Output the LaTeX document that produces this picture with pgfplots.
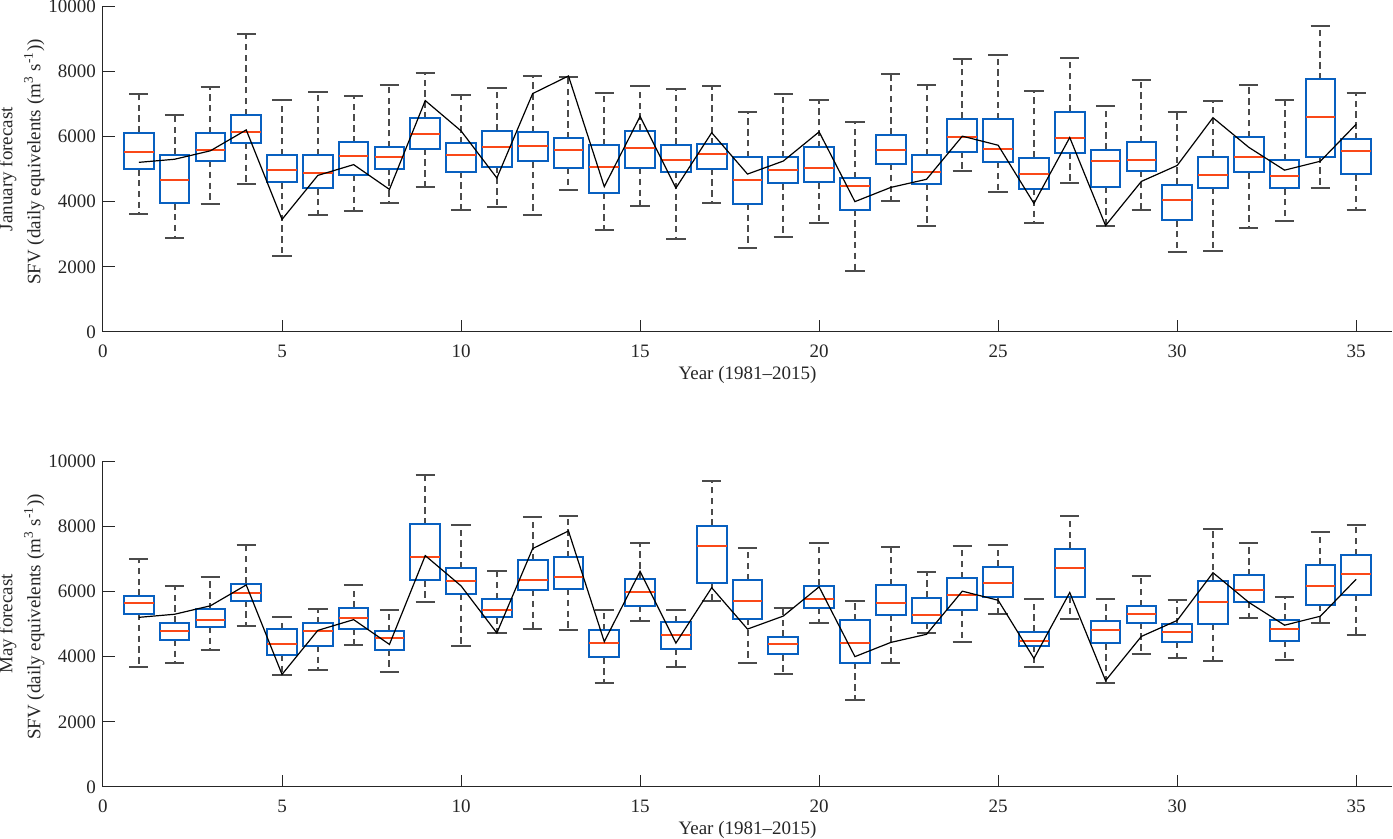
\documentclass[border=0pt]{standalone}
\usepackage{fontspec}
\setmainfont{Liberation Serif}
\usepackage{pgfplots}
\usepackage{pgfplotstable}
\pgfplotsset{compat=1.18}
\usepgfplotslibrary{statistics}

\definecolor{boxblue}{RGB}{8,96,192}
\definecolor{medred}{RGB}{250,72,24}
\definecolor{whisk}{RGB}{75,75,75}
\definecolor{axgray}{RGB}{38,38,38}

% observed SFV (black line), same in both panels
\pgfplotstableread{
yr obs
1 5205
2 5300
3 5560
4 6200
5 3455
6 4805
7 5135
8 4375
9 7100
10 6170
11 4725
12 7315
13 7855
14 4460
15 6615
16 4415
17 6115
18 4845
19 5245
20 6140
21 4000
22 4435
23 4685
24 6008
25 5730
26 3945
27 5967
28 3265
29 4620
30 5110
31 6575
32 5666
33 4965
34 5240
35 6375
}\obs

% pos, lower whisker, q1, median, q3, upper whisker
\newcommand{\bx}[6]{\addplot[boxblue, solid, boxplot prepared={draw position=#1,
  lower whisker=#2, lower quartile=#3, median=#4, upper quartile=#5, upper whisker=#6}]
  coordinates {};}

\pgfplotsset{
  sfv/.style={
    scale only axis, width=644.5pt, height=163pt,
    disabledatascaling,
    xmin=0, xmax=36, ymin=0, ymax=10000,
    scaled y ticks=false,
    axis lines*=left, axis line style={-, axgray, line width=0.5pt},
    xtick={0,5,...,35}, ytick={0,2000,4000,6000,8000,10000},
    tick align=inside, major tick length=6pt,
    tick style={axgray, line width=0.5pt},
    /pgf/number format/assume math mode=true,
    /pgf/number format/1000 sep={},
    tick label style={font=\fontsize{9.5}{11}\selectfont, text=axgray},
    xticklabel style={yshift=-3pt},
    label style={font=\fontsize{9.5}{14}\selectfont, text=axgray},
    xlabel={Year (1981--2015)},
    xlabel style={yshift=2.5pt},
    ylabel style={at={(axis description cs:-0.045,0.5)}, anchor=south,
      inner sep=0pt, align=center},
    boxplot/draw direction=y,
    boxplot/box extend=0.83,
    boxplot/whisker extend=0.54,
    boxplot/every box/.style={draw=boxblue, line width=1pt},
    boxplot/every median/.style={draw=medred, line width=1pt},
    boxplot/draw/lower whisker/.code={%
      \draw[whisk, line width=1pt, dash pattern=on 3.2pt off 2.2pt]
        (boxplot box cs:\pgfplotsboxplotvalue{lower quartile},0.5) --
        (boxplot box cs:\pgfplotsboxplotvalue{lower whisker},0.5);
      \draw[whisk, line width=1pt]
        (boxplot whisker cs:\pgfplotsboxplotvalue{lower whisker},0) --
        (boxplot whisker cs:\pgfplotsboxplotvalue{lower whisker},1);
    },
    boxplot/draw/upper whisker/.code={%
      \draw[whisk, line width=1pt, dash pattern=on 3.2pt off 2.2pt]
        (boxplot box cs:\pgfplotsboxplotvalue{upper quartile},0.5) --
        (boxplot box cs:\pgfplotsboxplotvalue{upper whisker},0.5);
      \draw[whisk, line width=1pt]
        (boxplot whisker cs:\pgfplotsboxplotvalue{upper whisker},0) --
        (boxplot whisker cs:\pgfplotsboxplotvalue{upper whisker},1);
    },
  },
}

\begin{document}
\begin{tikzpicture}
\useasboundingbox (-51.5pt,-253.5pt) rectangle (645pt,166pt);

\begin{axis}[sfv, at={(0,0)}, anchor=south west,
  ylabel={January forecast\\\hspace*{7pt}SFV (daily equivelents (m\textsuperscript{3} s\textsuperscript{-1}))}]
\bx{1}{3614}{4993}{5534}{6116}{7290}
\bx{2}{2889}{3951}{4666}{5442}{6667}
\bx{3}{3921}{5248}{5575}{6106}{7504}
\bx{4}{4554}{5799}{6136}{6657}{9138}
\bx{5}{2318}{4594}{4962}{5422}{7116}
\bx{6}{3604}{4411}{4891}{5422}{7361}
\bx{7}{3706}{4819}{5401}{5820}{7249}
\bx{8}{3961}{5013}{5381}{5667}{7566}
\bx{9}{4441}{5626}{6075}{6555}{7943}
\bx{10}{3757}{4921}{5432}{5789}{7259}
\bx{11}{3849}{5074}{5667}{6177}{7474}
\bx{12}{3584}{5238}{5718}{6136}{7862}
\bx{13}{4360}{5034}{5585}{5942}{7821}
\bx{14}{3124}{4268}{5054}{5728}{7331}
\bx{15}{3859}{5034}{5646}{6177}{7555}
\bx{16}{2849}{4911}{5289}{5748}{7443}
\bx{17}{3961}{5013}{5462}{5769}{7535}
\bx{18}{2573}{3931}{4656}{5360}{6739}
\bx{19}{2920}{4564}{4982}{5371}{7290}
\bx{20}{3349}{4594}{5023}{5677}{7116}
\bx{21}{1858}{3757}{4482}{4717}{6442}
\bx{22}{4033}{5156}{5575}{6055}{7913}
\bx{23}{3267}{4543}{4911}{5422}{7586}
\bx{24}{4931}{5534}{5973}{6545}{8362}
\bx{25}{4309}{5217}{5626}{6534}{8495}
\bx{26}{3359}{4390}{4860}{5350}{7392}
\bx{27}{4574}{5503}{5942}{6759}{8393}
\bx{28}{3247}{4452}{5238}{5595}{6933}
\bx{29}{3737}{4942}{5268}{5830}{7739}
\bx{30}{2461}{3431}{4043}{4523}{6749}
\bx{31}{2481}{4421}{4809}{5381}{7076}
\bx{32}{3186}{4901}{5381}{5983}{7586}
\bx{33}{3400}{4411}{4788}{5279}{7116}
\bx{34}{4411}{5381}{6596}{7749}{9383}
\bx{35}{3757}{4840}{5554}{5912}{7321}
\addplot[black, line width=0.6pt, mark=none] table[x=yr, y=obs] {\obs};
\end{axis}

\begin{axis}[sfv, at={(0,-227.5pt)}, anchor=south west,
  ylabel={May forecast\\\hspace*{7pt}SFV (daily equivelents (m\textsuperscript{3} s\textsuperscript{-1}))}]
\bx{1}{3691}{5307}{5634}{5869}{6994}
\bx{2}{3804}{4519}{4785}{5041}{6166}
\bx{3}{4203}{4918}{5133}{5450}{6442}
\bx{4}{4949}{5716}{5941}{6237}{7434}
\bx{5}{3446}{4059}{4387}{4847}{5204}
\bx{6}{3579}{4335}{4785}{5020}{5460}
\bx{7}{4356}{4857}{5174}{5501}{6207}
\bx{8}{3538}{4213}{4560}{4785}{5429}
\bx{9}{5665}{6340}{7065}{8057}{9571}
\bx{10}{4335}{5920}{6309}{6708}{8047}
\bx{11}{4724}{5204}{5440}{5767}{6636}
\bx{12}{4836}{6043}{6360}{6953}{8282}
\bx{13}{4816}{6074}{6432}{7045}{8313}
\bx{14}{3190}{3978}{4407}{4816}{5429}
\bx{15}{5082}{5562}{5971}{6370}{7485}
\bx{16}{3681}{4233}{4673}{5061}{5429}
\bx{17}{5716}{6258}{7393}{8016}{9376}
\bx{18}{3814}{5153}{5716}{6350}{7321}
\bx{19}{3466}{4070}{4387}{4611}{5491}
\bx{20}{5031}{5491}{5777}{6176}{7474}
\bx{21}{2679}{3814}{4417}{5113}{5706}
\bx{22}{3793}{5286}{5634}{6196}{7372}
\bx{23}{4714}{5031}{5276}{5808}{6595}
\bx{24}{4438}{5429}{5890}{6411}{7393}
\bx{25}{5307}{5818}{6258}{6759}{7413}
\bx{26}{3671}{4325}{4489}{4765}{5757}
\bx{27}{5153}{5838}{6708}{7311}{8323}
\bx{28}{3190}{4407}{4806}{5082}{5777}
\bx{29}{4070}{5041}{5317}{5552}{6483}
\bx{30}{3947}{4448}{4755}{4990}{5747}
\bx{31}{3875}{5000}{5685}{6329}{7924}
\bx{32}{5184}{5685}{6053}{6493}{7485}
\bx{33}{3885}{4479}{4847}{5113}{5818}
\bx{34}{5041}{5593}{6155}{6820}{7812}
\bx{35}{4663}{5890}{6524}{7117}{8047}
\addplot[black, line width=0.6pt, mark=none] table[x=yr, y=obs] {\obs};
\end{axis}
\end{tikzpicture}
\end{document}
